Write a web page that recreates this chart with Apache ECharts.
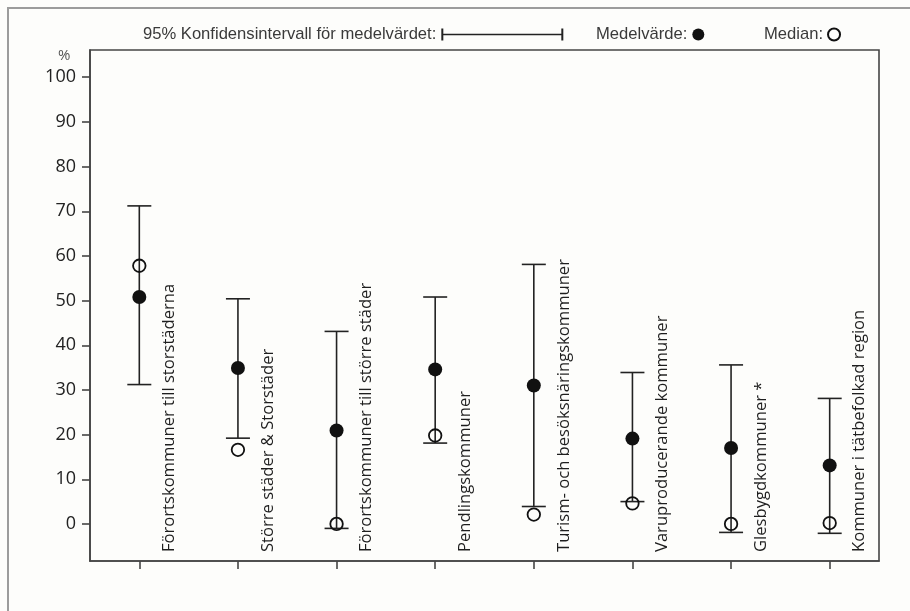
<!DOCTYPE html>
<html>
<head>
<meta charset="utf-8">
<script src="https://cdn.jsdelivr.net/npm/echarts@6/dist/echarts.min.js"></script>
<style>
html,body{margin:0;padding:0;background:#fdfdfb;}
#chart{width:910px;height:611px;}
</style>
</head>
<body>
<div id="chart"></div>
<script>
// ---- data ----
const categories = [
  'Förortskommuner till storstäderna',
  'Större städer & Storstäder',
  'Förortskommuner till större städer',
  'Pendlingskommuner',
  'Turism- och besöksnäringskommuner',
  'Varuproducerande kommuner',
  'Glesbygdkommuner *',
  'Kommuner i tätbefolkad region'
];
const meanValues   = [50.8, 34.9, 20.9, 34.6, 31.0, 19.1, 17.0, 13.1];
const medianValues = [57.8, 16.6, 0.0, 19.8, 2.1, 4.6, 0.0, 0.2];
const ciLow        = [31.2, 19.2, -1.0, 18.1, 3.9, 5.0, -1.9, -2.1];
const ciHigh       = [71.2, 50.4, 43.1, 50.8, 58.1, 33.9, 35.6, 28.1];
const yTicks       = [0, 10, 20, 30, 40, 50, 60, 70, 80, 90, 100];
const ciName = '95% Konfidensintervall för medelvärdet:';
const meanName = 'Medelvärde:';
const medianName = 'Median:';

const Y_MIN = -8.3, Y_MAX = 106.1;
const ink = '#222';
const axisColor = '#454545';

const chart = echarts.init(document.getElementById('chart'), null, {renderer: 'canvas'});

const legendText = {fontFamily: 'Liberation Sans, Arial, sans-serif', fontSize: 16.6, color: '#3a3a3a'};

const option = {
  backgroundColor: '#fdfdfb',
  animation: false,
  grid: {left: 90, right: 31, top: 50, bottom: 50, show: true, borderColor: axisColor, borderWidth: 1.6, outerBoundsMode: 'none'},
  legend: [
    {data: [{name: ciName, icon: 'path://M0,0H2V12H0Z M0,5.2H122V6.8H0Z M120,0H122V12H120Z', itemStyle: {color: ink, borderWidth: 0}}],
     left: 143, top: 26, padding: 0, align: 'right', itemWidth: 122, itemHeight: 12, selectedMode: false, textStyle: legendText},
    {data: [{name: meanName, icon: 'circle', itemStyle: {color: '#111', borderWidth: 0}}],
     left: 596, top: 26, padding: 0, align: 'right', itemWidth: 12, itemHeight: 12, selectedMode: false, textStyle: legendText},
    {data: [{name: medianName, icon: 'circle', itemStyle: {color: 'rgba(0,0,0,0)', borderColor: '#111', borderWidth: 2}}],
     left: 764, top: 26, padding: 0, align: 'right', itemWidth: 12, itemHeight: 12, selectedMode: false, textStyle: legendText}
  ],
  xAxis: {
    type: 'category',
    data: categories,
    boundaryGap: true,
    axisLine: {show: true, onZero: false, lineStyle: {color: axisColor, width: 1.6}},
    axisTick: {show: true, interval: 0, alignWithLabel: true, length: 8, lineStyle: {color: axisColor, width: 1.6}},
    axisLabel: {show: true, interval: 0, formatter: function () { return ''; }},
    splitLine: {show: false}
  },
  yAxis: {
    type: 'value',
    min: Y_MIN,
    max: Y_MAX,
    splitLine: {show: false},
    axisLine: {show: true, onZero: false, lineStyle: {color: axisColor, width: 1.6}},
    axisTick: {show: true, length: 8, customValues: yTicks, lineStyle: {color: axisColor, width: 1.6}},
    axisLabel: {customValues: yTicks, margin: 14, fontFamily: 'Open Sans, sans-serif', fontSize: 18, color: '#222'}
  },
  graphic: [
    {type: 'polyline', shape: {points: [[8, 611], [8, 8], [910, 8]]}, style: {stroke: '#9c9c9c', lineWidth: 2, fill: null}, silent: true},
    {type: 'text', left: 58, top: 48, style: {text: '%', fontFamily: 'Open Sans, sans-serif', fontSize: 15, fill: '#555'}}
  ],
  series: [
    {
      name: ciName,
      type: 'custom',
      itemStyle: {color: ink},
      encode: {x: 0, y: [1, 2]},
      data: categories.map((c, i) => [i, ciLow[i], ciHigh[i]]),
      renderItem: function (params, api) {
        const x = api.value(0);
        const pLo = api.coord([x, api.value(1)]);
        const pHi = api.coord([x, api.value(2)]);
        const hw = 12;
        const st = {stroke: ink, lineWidth: 1.6};
        return {type: 'group', children: [
          {type: 'line', shape: {x1: pLo[0], y1: pLo[1], x2: pHi[0], y2: pHi[1]}, style: st},
          {type: 'line', shape: {x1: pHi[0] - hw, y1: pHi[1], x2: pHi[0] + hw, y2: pHi[1]}, style: st},
          {type: 'line', shape: {x1: pLo[0] - hw, y1: pLo[1], x2: pLo[0] + hw, y2: pLo[1]}, style: st}
        ]};
      },
      z: 2
    },
    {
      name: meanName,
      type: 'scatter',
      symbol: 'circle',
      symbolSize: 14,
      itemStyle: {color: '#111', opacity: 1},
      data: meanValues.map((v, i) => [i, v]),
      z: 3
    },
    {
      name: medianName,
      type: 'scatter',
      symbol: 'circle',
      symbolSize: 12.5,
      itemStyle: {color: 'rgba(0,0,0,0)', borderColor: '#111', borderWidth: 1.8, opacity: 1},
      data: medianValues.map((v, i) => [i, v]),
      z: 4
    },
    {
      name: 'labels',
      type: 'custom',
      silent: true,
      data: categories.map((c, i) => [i, Y_MIN]),
      renderItem: function (params, api) {
        const p = api.coord([api.value(0), api.value(1)]);
        return {
          type: 'text',
          x: p[0] + 30,
          y: p[1] - 9,
          rotation: Math.PI / 2,
          style: {
            text: categories[params.dataIndex],
            x: 0, y: 0,
            fontFamily: 'Open Sans, sans-serif',
            fontSize: 16.6,
            fill: '#1e1e1e',
            align: 'left',
            verticalAlign: 'middle'
          }
        };
      },
      z: 5
    }
  ]
};
chart.setOption(option);
</script>
</body>
</html>
